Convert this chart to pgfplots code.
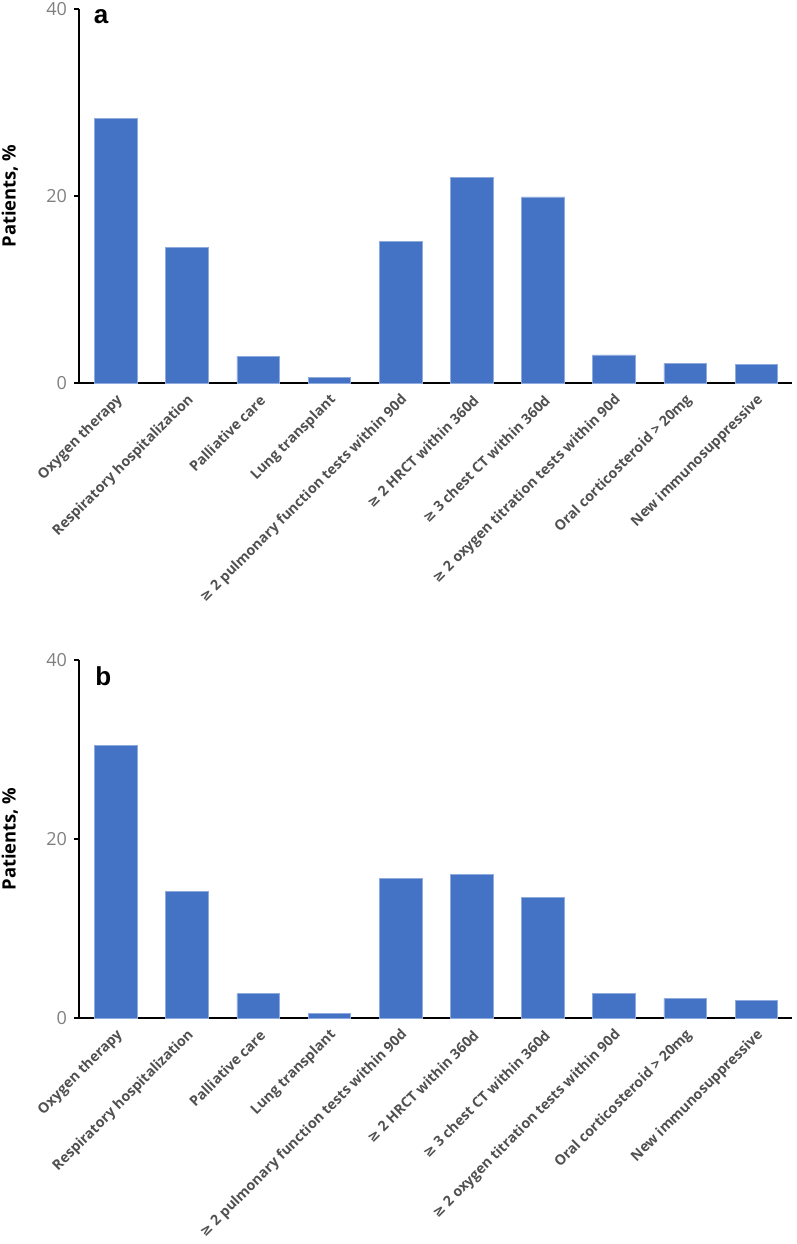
\documentclass[border=0pt]{standalone}
\usepackage{fontspec}
\setmainfont{Open Sans}
\newfontfamily\djv{DejaVu Sans}
\newfontfamily\arialb{Liberation Sans}
\usepackage{pgfplots}
\pgfplotsset{compat=1.18}
\definecolor{barblue}{HTML}{4472C4}
\definecolor{baredge}{HTML}{8FAADC}
\definecolor{lblgray}{HTML}{505050}
\definecolor{tickgray}{HTML}{7F7F7F}
\newcommand{\gge}{{\djv ≥}}
\pgfplotsset{
 panel/.style={
  scale only axis, width=356.5pt, xmin=-0.52, xmax=9.5, ymin=0, ymax=40,
  axis lines=left, axis line style={line width=1.4pt, -},
  ytick={0,20,40}, xtick={0,...,9},
  major tick length=2.5pt, tick align=outside, tick style={line width=1.2pt, black},
  major x tick style=transparent,
  /pgf/number format/assume math mode=true,
  yticklabel style={font=\fontsize{9}{10}\selectfont, text=tickgray},
  xticklabels={Oxygen therapy, Respiratory hospitalization, Palliative care, Lung transplant, \gge{} 2 pulmonary function tests within 90d, \gge{} 2 HRCT within 360d, \gge{} 3 chest CT within 360d, \gge{} 2 oxygen titration tests within 90d, Oral corticosteroid > 20mg, New immunosuppressive},
  xticklabel style={rotate=45, anchor=east, yshift=-5pt, xshift=1.5pt, font=\fontsize{7.1}{8}\selectfont\bfseries, text=lblgray},
  ylabel={Patients, \%},
  ylabel style={font=\fontsize{9.2}{10}\selectfont\bfseries, at={(axis description cs:-0.097,0.5)}, anchor=center},
  ybar, bar width=0.6,
  clip=false,
 }
}
\begin{document}
\begin{tikzpicture}
\useasboundingbox (0,0) rectangle (398.5pt,-622pt);
\begin{axis}[panel, height=187pt, at={(39.5pt,-191.5pt)}, anchor=south west]
\addplot[fill=barblue, draw=baredge, line width=0.4pt] coordinates {
(0,28.3) (1,14.5) (2,2.8) (3,0.6) (4,15.1) (5,22.0) (6,19.9) (7,3.0) (8,2.1) (9,2.0)};
\node[font=\arialb\fontsize{13}{13}\selectfont\bfseries] at (axis description cs:0.031,0.979) {a};
\end{axis}
\begin{axis}[panel, height=179pt, at={(39.5pt,-509pt)}, anchor=south west]
\addplot[fill=barblue, draw=baredge, line width=0.4pt] coordinates {
(0,30.5) (1,14.1) (2,2.7) (3,0.5) (4,15.6) (5,16.0) (6,13.5) (7,2.7) (8,2.2) (9,2.0)};
\node[font=\arialb\fontsize{13}{13}\selectfont\bfseries] at (axis description cs:0.034,0.955) {b};
\end{axis}
\end{tikzpicture}
\end{document}
